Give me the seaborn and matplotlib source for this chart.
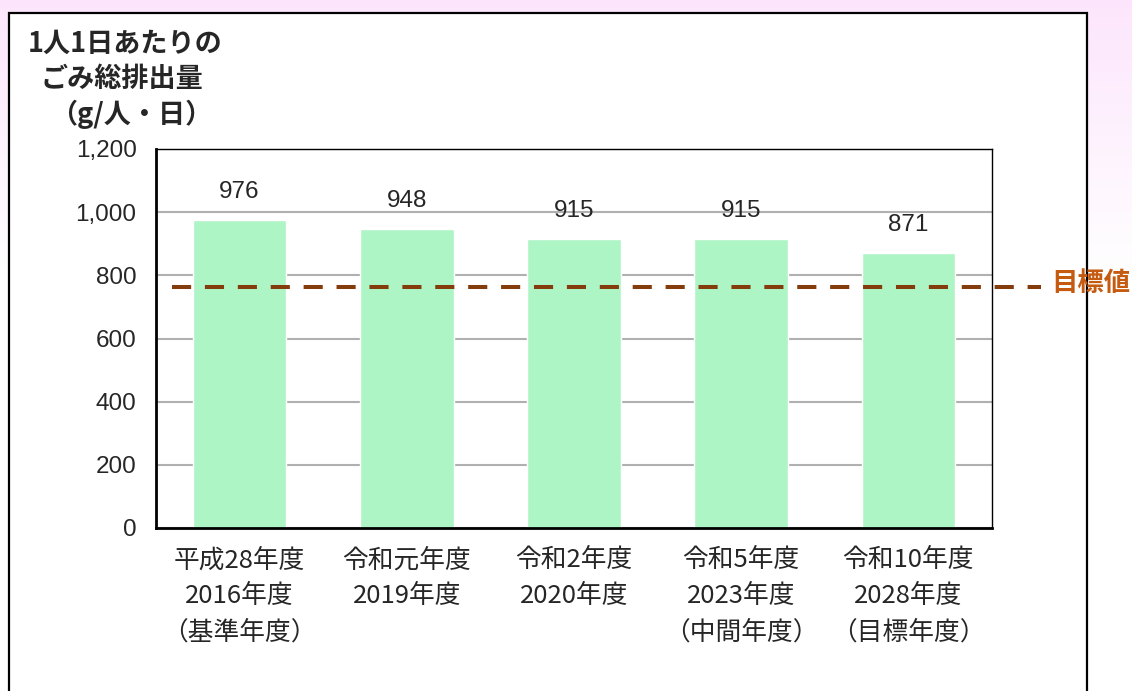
import matplotlib
matplotlib.use("Agg")
import matplotlib.pyplot as plt
import seaborn as sns
import pandas as pd
import numpy as np
from matplotlib.patches import Rectangle

# データ
categories = ["平成28年度\n2016年度\n（基準年度）",
              "令和元年度\n2019年度",
              "令和2年度\n2020年度",
              "令和5年度\n2023年度\n（中間年度）",
              "令和10年度\n2028年度\n（目標年度）"]
values = [976, 948, 915, 915, 871]
target = 763
yticks = [0, 200, 400, 600, 800, 1000, 1200]

sns.set_style("white")
plt.rcParams['font.family'] = ['Noto Sans CJK JP', 'DejaVu Sans']

fig = plt.figure(figsize=(11.32, 6.91), dpi=100)

# 背景のグラデーション（上が薄いピンク）
bg = fig.add_axes([0, 0, 1, 1], zorder=-10)
grad = np.linspace(0, 1, 256)
alpha = np.clip(1 - grad / 0.4, 0, 1)
img = np.ones((256, 1, 3))
pink = np.array([0.99, 0.90, 0.99])
img[:, 0, :] = 1 - alpha[:, None] * (1 - pink)
bg.imshow(img, aspect='auto', extent=[0, 1, 0, 1], origin='upper')
bg.set_axis_off()
bg.add_patch(Rectangle((9 / 1132, -0.05), (1087 - 9) / 1132, 1.05 - 13 / 691,
                       transform=bg.transAxes, facecolor='white',
                       edgecolor='black', linewidth=1.6))

ax = fig.add_axes([156 / 1132, 1 - 528 / 691, (992 - 156) / 1132, (528 - 149) / 691])
df = pd.DataFrame({"year": categories, "value": values})
sns.barplot(data=df, x="year", y="value", color="#adf5c5", saturation=1,
            width=0.56, ax=ax, zorder=2)

ax.set_ylim(0, 1200)
ax.set_yticks(yticks)
ax.set_yticklabels([f"{v:,}" for v in yticks], fontfamily='Liberation Sans', fontsize=17.5)
ax.tick_params(axis='y', length=0, pad=14)
ax.tick_params(axis='x', length=0, pad=14, labelsize=18.5)
for lab in ax.get_xticklabels():
    lab.set_linespacing(1.5)
ax.set_xlabel("")
ax.set_ylabel("")
ax.grid(axis='y', color='#b0b0b0', linewidth=1.5, zorder=0)
ax.set_axisbelow(True)
for side in ["top", "right"]:
    ax.spines[side].set_linewidth(1.0)
    ax.spines[side].set_color("black")
for side in ["left", "bottom"]:
    ax.spines[side].set_linewidth(2.0)
    ax.spines[side].set_color("black")

for c in ax.containers:
    ax.bar_label(c, labels=[str(v) for v in values], padding=12,
                 fontsize=17.5, fontfamily='Liberation Sans')

# 目標値ライン
ax.plot([-0.404, 4.793], [target, target], color='#843c0c', linewidth=2.9,
        dashes=(4.75, 3.42), clip_on=False, zorder=3)
ax.text(4.855, target + 10, "目標値", color='#c55a11', fontsize=19, fontweight='bold',
        va='center', ha='left', clip_on=False)
ax.set_xlim(-0.5, 4.5)

# 縦軸タイトル
fig.text(28 / 1132, 1 - 44 / 691, "1人1日あたりの", fontsize=19.5, fontweight='bold', va='center')
fig.text(40 / 1132, 1 - 79 / 691, "ごみ総排出量", fontsize=19.5, fontweight='bold', va='center')
fig.text(50 / 1132, 1 - 114 / 691, "（g/人・日）", fontsize=19.5, fontweight='bold', va='center')

fig.savefig("out.png", dpi=100)
